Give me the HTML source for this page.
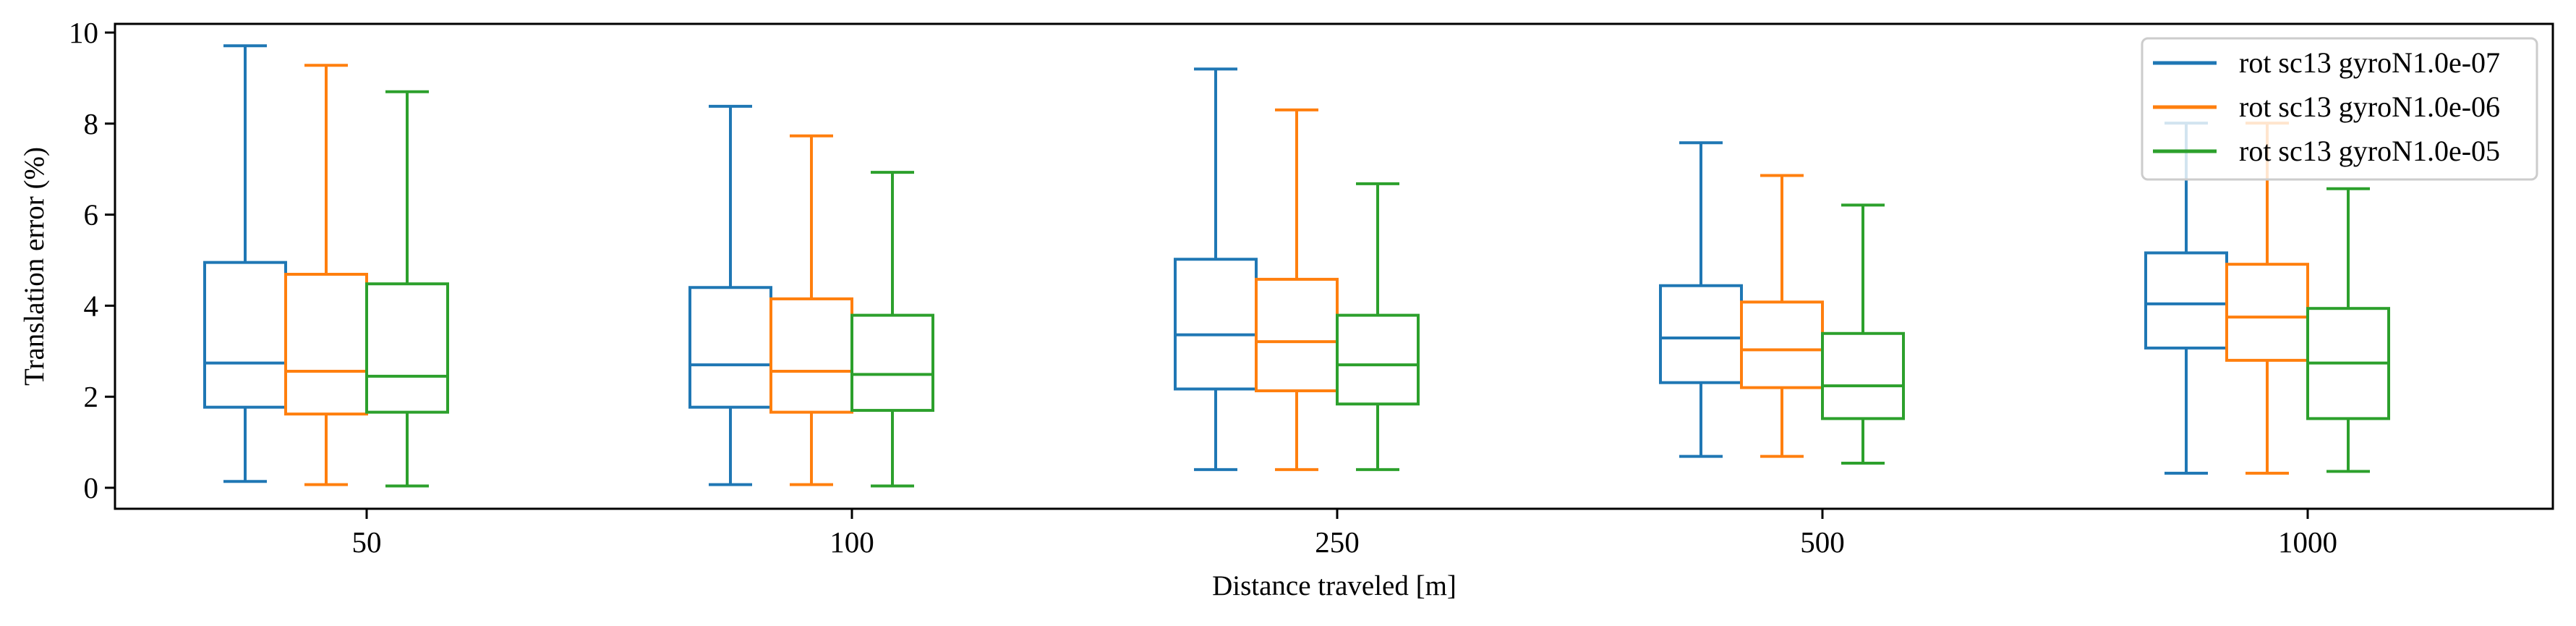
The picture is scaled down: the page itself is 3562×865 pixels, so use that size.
<!DOCTYPE html>
<html><head><meta charset="utf-8"><style>
html,body{margin:0;padding:0;background:#fff;}
svg text{font-family:"Liberation Serif",serif;fill:#000;}
</style></head><body>
<svg id="chart" width="3562" height="860" xmlns="http://www.w3.org/2000/svg">
<rect x="0" y="0" width="3562" height="860" fill="#fff"/>
<g id="plot"></g>
<rect x="159" y="33" width="3371" height="670" fill="none" stroke="#000" stroke-width="3"/>
<text x="0" y="0" font-size="39" text-anchor="middle" transform="translate(60,368) rotate(-90)">Translation error (%)</text>
<text x="1845" y="822" font-size="39" text-anchor="middle">Distance traveled [m]</text>
<g id="legend">
<rect x="2962" y="53" width="546" height="195" rx="8" fill="#fff" fill-opacity="0.8" stroke="#ccc" stroke-width="3"/>
</g>
</svg>
<script>
const categories = ["50","100","250","500","1000"];
const seriesNames = ["rot sc13 gyroN1.0e-07","rot sc13 gyroN1.0e-06","rot sc13 gyroN1.0e-05"];
const colors = ["#1f77b4","#ff7f0e","#2ca02c"];
// [low, q1, median, q3, high] per category
const s0 = [[0.14,1.77,2.74,4.95,9.71],[0.07,1.77,2.70,4.40,8.38],[0.40,2.17,3.36,5.02,9.20],[0.69,2.31,3.29,4.44,7.58],[0.32,3.07,4.04,5.16,8.01]];
const s1 = [[0.07,1.62,2.56,4.69,9.28],[0.07,1.66,2.56,4.15,7.73],[0.40,2.13,3.21,4.58,8.30],[0.69,2.20,3.03,4.08,6.86],[0.32,2.80,3.75,4.91,8.01]];
const s2 = [[0.04,1.66,2.45,4.48,8.70],[0.04,1.70,2.49,3.79,6.93],[0.40,1.84,2.70,3.79,6.68],[0.54,1.52,2.24,3.39,6.21],[0.36,1.52,2.74,3.94,6.57]];
const yTicks = [0,2,4,6,8,10];

const NS="http://www.w3.org/2000/svg";
const plot=document.getElementById('plot');
const svg=document.getElementById('chart');
function yS(v){return 674-(674-45)*v/10;}
function xS(i){return 507+i*671;}
const BW=112;
function mk(tag,attrs,parent){const e=document.createElementNS(NS,tag);for(const k in attrs)e.setAttribute(k,attrs[k]);(parent||plot).appendChild(e);return e;}
yTicks.forEach(t=>{
  const l=mk('line',{x1:145,x2:159,y1:yS(t),y2:yS(t),stroke:'#000','stroke-width':3},svg);
  
  
  const tx=mk('text',{x:136,y:yS(t)+14,'font-size':41,'text-anchor':'end'},svg);
  tx.textContent=t;
  
  
});
categories.forEach((c,i)=>{
  const l=mk('line',{x1:xS(i),x2:xS(i),y1:703,y2:717,stroke:'#000','stroke-width':3},svg);
  
  
  const tx=mk('text',{x:xS(i),y:763,'font-size':41,'text-anchor':'middle'},svg);
  tx.textContent=c;
  
  
});
const series=[s0,s1,s2];
const offs=[-168,-56,56];
series.forEach((s,si)=>{
  s.forEach((d,ci)=>{
    const cx=xS(ci)+offs[si];
    const g=mk('g',{stroke:colors[si],'stroke-width':4,fill:'none'});
    
    
    mk('rect',{x:cx-BW/2,y:yS(d[3]),width:BW,height:yS(d[1])-yS(d[3])},g);
    mk('line',{x1:cx-BW/2,x2:cx+BW/2,y1:yS(d[2]),y2:yS(d[2])},g);
    mk('line',{x1:cx,x2:cx,y1:yS(d[3]),y2:yS(d[4])},g);
    mk('line',{x1:cx,x2:cx,y1:yS(d[1]),y2:yS(d[0])},g);
    mk('line',{x1:cx-30,x2:cx+30,y1:yS(d[4]),y2:yS(d[4])},g);
    mk('line',{x1:cx-30,x2:cx+30,y1:yS(d[0]),y2:yS(d[0])},g);
  });
});
const leg=document.getElementById('legend');
seriesNames.forEach((n,i)=>{
  const y=87+i*61;
  const l=mk('line',{x1:2977,x2:3065,y1:y,y2:y,stroke:colors[i],'stroke-width':5},leg);
  
  
  const t=mk('text',{x:3096,y:y+13,'font-size':40},leg);
  t.textContent=n;
  
  
});
</script>
</body></html>
